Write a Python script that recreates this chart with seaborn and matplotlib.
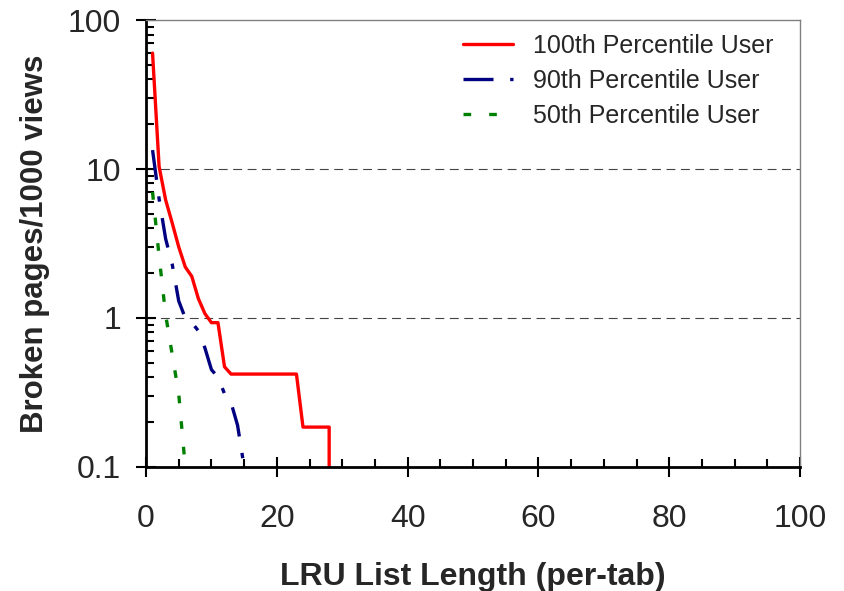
"""
Broken pages per 1000 views vs LRU list length, log scale.
"""

import numpy as np
import pandas as pd
import seaborn as sns
import matplotlib.pyplot as plt
from matplotlib.ticker import FixedLocator, FuncFormatter, NullFormatter, MultipleLocator

# values
x_100 = [1, 2, 3, 4, 5, 6, 7, 8, 9, 10, 11, 12, 13, 23, 24, 28, 28]
y_100 = [60, 10.4, 6.2, 4.35, 3.0, 2.2, 1.9, 1.35, 1.07, 0.93, 0.93, 0.47, 0.42,
         0.42, 0.185, 0.185, 0.1]

x_90 = [1, 2, 3, 4, 5, 6, 7, 8, 9, 10, 11, 12, 13, 14, 15]
y_90 = [13.4, 6.3, 3.4, 2.3, 1.3, 1.0, 0.93, 0.82, 0.63, 0.45, 0.40, 0.31, 0.27,
        0.19, 0.1]

x_50 = [1, 2, 3, 4, 5, 6]
y_50 = [7.0, 2.6, 1.05, 0.57, 0.31, 0.1]

series = ["100th Percentile User", "90th Percentile User", "50th Percentile User"]
xlabel = "LRU List Length (per-tab)"
ylabel = "Broken pages/1000 views"

df = pd.concat(
    [
        pd.DataFrame({"x": x_100, "y": y_100, "series": series[0]}),
        pd.DataFrame({"x": x_90, "y": y_90, "series": series[1]}),
        pd.DataFrame({"x": x_50, "y": y_50, "series": series[2]}),
    ],
    ignore_index=True,
)

sns.set_style("white")
plt.rcParams["font.family"] = ["Liberation Sans", "DejaVu Sans"]

fig = plt.figure(figsize=(8.44, 5.91), dpi=100)
ax = fig.add_axes([0.173, 0.210, 0.775, 0.756])

palette = {series[0]: "#ff0000", series[1]: "#000080", series[2]: "#008000"}
dashes = {series[0]: "", series[1]: (9, 5, 1.6, 5), series[2]: (2.3, 5.4)}

sns.lineplot(
    data=df, x="x", y="y", hue="series", style="series",
    hue_order=series, style_order=series,
    palette=palette, dashes=dashes, estimator=None, sort=False,
    linewidth=2.4, ax=ax, legend=True,
)

ax.set_yscale("log")
ax.set_xlim(0, 100)
ax.set_ylim(0.1, 100)

ax.xaxis.set_major_locator(MultipleLocator(20))
ax.xaxis.set_minor_locator(MultipleLocator(5))
ax.yaxis.set_major_locator(FixedLocator([0.1, 1, 10, 100]))
ax.yaxis.set_minor_locator(FixedLocator(
    [m * d for d in (0.1, 1, 10) for m in range(2, 10)]))
ax.yaxis.set_major_formatter(FuncFormatter(lambda v, _: f"{v:g}"))
ax.yaxis.set_minor_formatter(NullFormatter())

ax.tick_params(which="major", direction="inout", length=14, width=1.5,
               labelsize=23, color="black")
ax.tick_params(axis="x", which="major", pad=20)
ax.tick_params(axis="y", which="major", pad=11)
ax.tick_params(which="minor", direction="in", length=6, width=1.5,
               color="black", bottom=True, left=True)
ax.tick_params(bottom=True, left=True)

for y in (1, 10):
    ax.axhline(y, color="#444444", linestyle=(0, (8, 5)), linewidth=0.8, zorder=0)

for side in ("left", "bottom"):
    ax.spines[side].set_color("black")
    ax.spines[side].set_linewidth(2)
for side in ("top", "right"):
    ax.spines[side].set_color("#808080")
    ax.spines[side].set_linewidth(1)

ax.set_xlabel(xlabel, fontsize=23, fontweight="bold", labelpad=20)
ax.set_ylabel(ylabel, fontsize=22.5, fontweight="bold", labelpad=13)

ax.legend(title=None, frameon=False, fontsize=18, loc="upper right",
          bbox_to_anchor=(0.986, 1.009), labelspacing=0.45, handlelength=2.0,
          borderaxespad=0.3)

fig.savefig("out.png", dpi=100)
